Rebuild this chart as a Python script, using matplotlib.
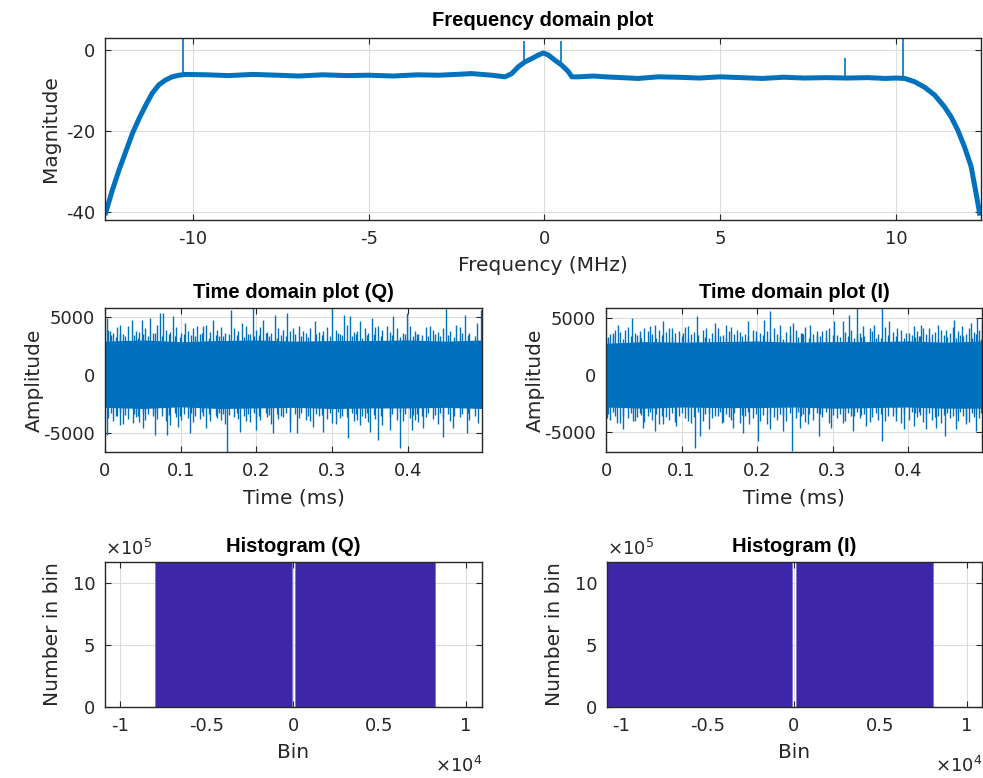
import numpy as np
import matplotlib
matplotlib.use('Agg')
import matplotlib.pyplot as plt
from matplotlib.ticker import FuncFormatter

plt.rcParams['font.family'] = ['DejaVu Sans']
plt.rcParams['axes.unicode_minus'] = False

# ---------------- data ----------------
# Frequency domain (MHz, dB)
freq_mhz = [-12.48, -12.29, -12.10, -11.91, -11.72, -11.53, -11.34, -11.16, -10.97, -10.78,
            -10.59, -10.40, -10.20, -9.6, -9.0, -8.3, -7.6, -7.0, -6.3, -5.6, -5.0, -4.3,
            -3.6, -3.01, -2.5, -2.07, -1.50, -1.12, -0.93, -0.74, -0.55, -0.36, -0.17, -0.03,
            0.11, 0.30, 0.49, 0.68, 0.78, 0.97, 1.4, 1.72, 2.2, 2.67, 3.24, 3.8, 4.4, 5.0,
            5.6, 6.2, 6.8, 7.4, 8.0, 8.6, 9.2, 9.7, 10.0, 10.25, 10.53, 10.82, 11.10, 11.38,
            11.57, 11.76, 11.95, 12.14, 12.28, 12.38]
mag_db = [-40.2, -34.6, -29.6, -25.1, -20.6, -16.9, -13.6, -10.7, -8.6, -7.4,
          -6.6, -6.2, -6.0, -6.1, -6.3, -6.0, -6.2, -6.4, -6.1, -6.3, -6.2, -6.4,
          -6.1, -6.2, -6.0, -5.8, -6.2, -6.6, -5.8, -4.1, -2.9, -2.1, -1.2, -0.7,
          -1.2, -2.5, -3.7, -5.3, -6.6, -6.6, -6.4, -6.6, -6.8, -7.0, -6.6, -6.7, -6.9, -6.6,
          -6.8, -7.0, -6.7, -6.9, -6.8, -6.9, -6.8, -7.0, -6.9, -7.0, -7.8, -9.2, -11.1, -14.0,
          -16.5, -19.8, -23.9, -28.8, -35.4, -40.3]
spike_freq = [-10.28, -0.57, 0.48, 8.55, 10.2]
spike_top = [4.0, 2.2, 2.2, -2.0, 4.0]

# Time domain (Q): tall spikes, mid-level spikes, low-level spikes, solid core
q_up_t = [0.002, 0.0066, 0.0198, 0.035, 0.0485, 0.0594, 0.0727, 0.077, 0.09, 0.1057, 0.121,
          0.134, 0.143, 0.167, 0.181, 0.195, 0.209, 0.2246, 0.24, 0.2488, 0.262, 0.2774, 0.288,
          0.2994, 0.315, 0.3236, 0.337, 0.352, 0.361, 0.372, 0.381, 0.3985, 0.429, 0.451, 0.464,
          0.4756, 0.491, 0.4965]
q_up_v = [4890, 3730, 4310, 4740, 4740, 4890, 5320, 5320, 5030, 4450, 4160,
          4310, 4740, 5600, 4450, 5750, 4740, 5170, 5320, 4020, 3730, 4600, 3730,
          5660, 5170, 5030, 4600, 4890, 4160, 4160, 5030, 5320, 4160, 5660, 4310,
          5170, 4450, 5600]
q_dn_t = [0.002, 0.0198, 0.0374, 0.0506, 0.066, 0.0815, 0.097, 0.112, 0.134, 0.161, 0.178,
          0.2, 0.222, 0.244, 0.253, 0.275, 0.288, 0.2994, 0.321, 0.337, 0.35, 0.361, 0.3765,
          0.3897, 0.405, 0.4205, 0.447, 0.46, 0.478, 0.493]
q_dn_v = [-5170, -4310, -4160, -4600, -5170, -5170, -4450, -5030, -4600, -6610, -4890,
          -4740, -5030, -4890, -5030, -4450, -4890, -4160, -5460, -4310, -4890, -5600, -4740,
          -6320, -4740, -4600, -5320, -4600, -5030, -4160]
q_mid_t = [0.004, 0.011, 0.016, 0.024, 0.030, 0.041, 0.045, 0.053, 0.063, 0.069,
           0.081, 0.086, 0.094, 0.101, 0.109, 0.116, 0.126, 0.130, 0.139, 0.148,
           0.153, 0.158, 0.171, 0.176, 0.186, 0.191, 0.199, 0.205, 0.214, 0.219,
           0.229, 0.235, 0.244, 0.256, 0.266, 0.271, 0.282, 0.293, 0.305, 0.310,
           0.319, 0.329, 0.333, 0.343, 0.348, 0.357, 0.366, 0.376, 0.386, 0.393,
           0.403, 0.409, 0.414, 0.424, 0.433, 0.440, 0.446, 0.456, 0.469, 0.481]
q_mid_up = [3900, 3600, 4100, 3500, 4200, 3800, 3700, 4000, 3600, 4300,
            3900, 3700, 4100, 3600, 3800, 4000, 3500, 4200, 3700, 3900,
            4100, 3600, 4000, 3800, 4200, 3500, 3900, 4100, 3700, 3600,
            4000, 3900, 3800, 4200, 3600, 4000, 3700, 4100, 3900, 3500,
            4300, 3700, 3800, 4000, 3600, 4100, 3900, 3700, 4000, 3600,
            4200, 3800, 3500, 4100, 3900, 3700, 4000, 3800, 4100, 3600]
q_mid_dn = [-3700, -4000, -3500, -4200, -3800, -3600, -4100, -3900, -3500, -3800,
            -4000, -4300, -3600, -3900, -3700, -4100, -3800, -3500, -4000, -3700,
            -3900, -4200, -3600, -3800, -4000, -4100, -3700, -3900, -3600, -4200,
            -3800, -3600, -4100, -3700, -3900, -4000, -3500, -3800, -4200, -3700,
            -3600, -4000, -3900, -3700, -4100, -3800, -4300, -3600, -3900, -4000,
            -3700, -3900, -4100, -3600, -3800, -4200, -3700, -4000, -3600, -3900]
q_low_t = [0.008, 0.014, 0.020, 0.027, 0.038, 0.043, 0.050, 0.057, 0.066, 0.075,
           0.084, 0.092, 0.099, 0.104, 0.114, 0.119, 0.128, 0.137, 0.146, 0.151,
           0.156, 0.164, 0.174, 0.184, 0.189, 0.197, 0.203, 0.212, 0.217, 0.227,
           0.232, 0.239, 0.251, 0.259, 0.268, 0.279, 0.286, 0.297, 0.308, 0.313,
           0.326, 0.331, 0.340, 0.346, 0.355, 0.364, 0.379, 0.389, 0.396, 0.407,
           0.412, 0.419, 0.427, 0.436, 0.443, 0.453, 0.461, 0.472, 0.479, 0.489]
q_low_up = [3400, 3250, 3550, 3300, 3450, 3200, 3500, 3350, 3600, 3300,
            3500, 3350, 3250, 3550, 3400, 3300, 3600, 3200, 3450, 3350,
            3300, 3550, 3400, 3250, 3500, 3350, 3450, 3600, 3300, 3200,
            3450, 3300, 3500, 3350, 3250, 3550, 3400, 3300, 3600, 3450,
            3350, 3500, 3200, 3450, 3550, 3300, 3400, 3250, 3500, 3350,
            3550, 3400, 3300, 3500, 3350, 3450, 3250, 3600, 3400, 3300]
q_low_dn = [-3300, -3500, -3200, -3450, -3350, -3550, -3250, -3400, -3300, -3500,
            -3450, -3250, -3550, -3350, -3300, -3500, -3200, -3400, -3550, -3300,
            -3350, -3450, -3250, -3500, -3400, -3300, -3550, -3250, -3450, -3350,
            -3500, -3300, -3400, -3250, -3550, -3350, -3450, -3300, -3200, -3500,
            -3250, -3400, -3500, -3300, -3450, -3550, -3350, -3200, -3400, -3450,
            -3400, -3550, -3300, -3450, -3250, -3350, -3500, -3400, -3300, -3550]
q_core_t = [0.0, 0.05, 0.1, 0.15, 0.2, 0.25, 0.3, 0.35, 0.4, 0.45, 0.4979]
q_core_hi = [2900, 3000, 2850, 2950, 3000, 2900, 2950, 2950, 3000, 2900, 3000]
q_core_lo = [-2800, -2900, -2750, -2900, -2850, -2800, -2900, -2850, -2850, -2800, -2900]

# Time domain (I)
i_up_t = [0.002, 0.0097, 0.016, 0.025, 0.034, 0.045, 0.058, 0.065, 0.0757, 0.087, 0.102,
          0.109, 0.1206, 0.133, 0.144, 0.159, 0.173, 0.188, 0.199, 0.209, 0.2176, 0.23, 0.243,
          0.247, 0.26, 0.27, 0.28, 0.2915, 0.3025, 0.3135, 0.3214, 0.3325, 0.34, 0.355, 0.3655,
          0.375, 0.386, 0.397, 0.408, 0.417, 0.428, 0.439, 0.45, 0.461, 0.472, 0.483, 0.4918,
          0.4976]
i_up_v = [3270, 3710, 4440, 4000, 5030, 3860, 4300, 4440, 4740, 4150, 3710,
          4300, 5180, 4150, 4590, 4440, 4000, 4740, 3860, 4880, 5610, 4440, 4300,
          4590, 3710, 4440, 3860, 4000, 4740, 4740, 5320, 5900, 4300, 4440, 5900,
          4740, 4150, 3710, 4300, 4440, 4150, 4440, 4000, 4880, 4300, 4590, 5030,
          4740]
i_dn_t = [0.001, 0.014, 0.023, 0.036, 0.049, 0.065, 0.0757, 0.093, 0.109, 0.1176, 0.124,
          0.137, 0.153, 0.168, 0.181, 0.19, 0.201, 0.217, 0.234, 0.2466, 0.2563, 0.267,
          0.2827, 0.298, 0.3135, 0.3267, 0.344, 0.366, 0.384, 0.395, 0.408, 0.4236, 0.437,
          0.449, 0.463, 0.4765, 0.4897]
i_dn_v = [-3740, -4180, -4760, -4030, -4620, -4910, -4320, -4470, -4030, -6370, -5350,
          -4760, -4180, -4620, -5060, -4320, -5790, -4760, -4910, -6670, -4620, -4320,
          -5350, -4620, -4180, -4910, -4470, -5790, -4030, -4760, -4470, -4760, -4620,
          -5350, -4760, -4320, -4910]
i_mid_t = [0.005, 0.012, 0.019, 0.029, 0.038, 0.041, 0.050, 0.055, 0.061, 0.070,
           0.080, 0.084, 0.092, 0.097, 0.105, 0.113, 0.117, 0.128, 0.140, 0.148,
           0.155, 0.163, 0.166, 0.177, 0.184, 0.194, 0.204, 0.213, 0.222, 0.226,
           0.238, 0.251, 0.258, 0.264, 0.274, 0.286, 0.295, 0.306, 0.317, 0.325,
           0.337, 0.349, 0.352, 0.360, 0.370, 0.380, 0.390, 0.401, 0.412, 0.420,
           0.432, 0.436, 0.443, 0.455, 0.459, 0.466, 0.477, 0.481, 0.487, 0.494]
i_mid_up = [3600, 4000, 3800, 4200, 3700, 3500, 4100, 3900, 3600, 4000,
            3800, 4100, 3700, 3900, 4200, 3600, 3800, 4000, 3700, 4100,
            3500, 3900, 4200, 3800, 3600, 4000, 3700, 3900, 4100, 3600,
            3800, 4000, 3700, 4200, 3600, 3900, 4100, 3500, 3800, 4000,
            3700, 4100, 3900, 3600, 4200, 3800, 4000, 3700, 3900, 4100,
            3600, 3800, 4000, 3700, 4200, 3900, 3600, 4100, 3800, 4000]
i_mid_dn = [-3900, -3600, -4200, -3800, -4000, -3700, -4100, -3600, -3900, -4300,
            -3700, -3900, -4100, -3600, -3800, -4200, -3700, -4000, -3800, -3600,
            -4100, -3700, -3900, -4200, -3600, -3800, -4000, -4300, -3700, -3900,
            -4000, -3800, -3600, -4100, -3900, -3700, -4200, -3800, -4000, -3600,
            -3800, -4100, -3700, -3900, -4000, -3600, -4200, -3900, -3700, -4100,
            -3900, -3700, -4200, -3800, -3600, -4000, -3900, -4100, -3700, -3800]
i_low_t = [0.003, 0.009, 0.023, 0.033, 0.045, 0.047, 0.058, 0.066, 0.074, 0.088,
           0.101, 0.109, 0.122, 0.131, 0.136, 0.144, 0.151, 0.159, 0.170, 0.180,
           0.188, 0.199, 0.208, 0.217, 0.231, 0.234, 0.243, 0.254, 0.261, 0.269,
           0.279, 0.283, 0.291, 0.300, 0.310, 0.321, 0.329, 0.333, 0.342, 0.357,
           0.364, 0.374, 0.384, 0.394, 0.405, 0.409, 0.416, 0.424, 0.428, 0.439,
           0.447, 0.451, 0.463, 0.469, 0.473, 0.484, 0.490, 0.496, 0.414, 0.338]
i_low_up = [3350, 3500, 3200, 3450, 3550, 3300, 3400, 3250, 3500, 3350,
            3450, 3300, 3500, 3350, 3250, 3550, 3400, 3300, 3600, 3450,
            3400, 3250, 3550, 3300, 3450, 3200, 3500, 3350, 3600, 3300,
            3550, 3400, 3300, 3500, 3350, 3450, 3250, 3600, 3400, 3300,
            3300, 3550, 3400, 3250, 3500, 3350, 3450, 3600, 3300, 3200,
            3500, 3350, 3250, 3550, 3400, 3300, 3600, 3200, 3450, 3350]
i_low_dn = [-3450, -3250, -3550, -3350, -3300, -3500, -3200, -3400, -3550, -3300,
            -3300, -3500, -3200, -3450, -3350, -3550, -3250, -3400, -3300, -3500,
            -3250, -3400, -3500, -3300, -3450, -3550, -3350, -3200, -3400, -3450,
            -3350, -3450, -3250, -3500, -3400, -3300, -3550, -3250, -3450, -3350,
            -3400, -3550, -3300, -3450, -3250, -3350, -3500, -3400, -3300, -3550,
            -3500, -3300, -3400, -3250, -3550, -3350, -3450, -3300, -3200, -3500]
i_core_t = [0.0, 0.05, 0.1, 0.15, 0.2, 0.25, 0.3, 0.35, 0.4, 0.45, 0.4979]
i_core_hi = [2800, 2950, 2900, 2950, 3000, 2900, 2950, 2950, 3000, 2900, 3000]
i_core_lo = [-2800, -2900, -2800, -2850, -2850, -2800, -2900, -2850, -2800, -2900, -2900]

# Histograms (bin edges and counts)
hq_left = [-7980, 90]
hq_right = [-90, 8210]
hq_count = [1.17e6, 1.17e6]
hi_left = [-10810, 90]
hi_right = [-90, 8030]
hi_count = [1.17e6, 1.17e6]

# ---------------- style ----------------
LINE = '#0072BD'
AXC = '#262626'
HIST = '#3E26A8'
TICK_FS = 13
LAB_FS = 14.5
TITLE_FONT = dict(family=['Liberation Sans', 'DejaVu Sans'], fontweight='bold', fontsize=14.5)

W, H = 983, 778
fig = plt.figure(figsize=(W / 100, H / 100), dpi=100)


def rect(l, r, t, b):
    return [l / W, 1 - b / H, (r - l) / W, (b - t) / H]


def style(ax):
    for s in ax.spines.values():
        s.set_color(AXC)
        s.set_linewidth(1.0)
    ax.tick_params(direction='in', length=4, width=0.8, colors=AXC, labelsize=TICK_FS,
                   top=True, right=True, labelcolor=AXC, pad=7)
    ax.grid(True, color='#dcdcdc', linewidth=0.8)
    ax.set_axisbelow(True)


# ---- top: frequency domain ----
ax1 = fig.add_axes(rect(105, 981, 38, 220))
style(ax1)
ax1.plot(freq_mhz, mag_db, color=LINE, lw=3.6, solid_joinstyle='round')
base = np.interp(spike_freq, freq_mhz, mag_db)
ax1.vlines(spike_freq, base, spike_top, color=LINE, lw=1.2)
ax1.set_xlim(-12.5, 12.42)
ax1.set_ylim(-42, 3)
ax1.set_xticks([-10, -5, 0, 5, 10])
ax1.set_yticks([-40, -20, 0])
ax1.set_xlabel('Frequency (MHz)', fontsize=LAB_FS, color=AXC, labelpad=6)
ax1.set_ylabel('Magnitude', fontsize=LAB_FS, color=AXC, labelpad=4)
ax1.set_title('Frequency domain plot', color='black', pad=9, **TITLE_FONT)


def time_panel(rc, up_t, up_v, dn_t, dn_v, mt, mup, mdn, lt, lup, ldn, ct, chi, clo,
               ylim, title):
    ax = fig.add_axes(rc)
    style(ax)
    ax.fill_between(ct, clo, chi, color=LINE, lw=0)
    ax.vlines(lt, ldn, lup, color=LINE, lw=1.0)
    ax.vlines(mt, mdn, mup, color=LINE, lw=1.0)
    ax.vlines(up_t, 0, up_v, color=LINE, lw=1.0)
    ax.vlines(dn_t, dn_v, 0, color=LINE, lw=1.0)
    ax.set_xlim(0, 0.4979)
    ax.set_ylim(*ylim)
    ax.set_xticks([0, 0.1, 0.2, 0.3, 0.4])
    ax.set_yticks([-5000, 0, 5000])
    ax.xaxis.set_major_formatter(FuncFormatter(lambda v, p: ('%g' % v)))
    ax.set_xlabel('Time (ms)', fontsize=LAB_FS, color=AXC, labelpad=6)
    ax.set_ylabel('Amplitude', fontsize=LAB_FS, color=AXC, labelpad=0)
    ax.set_title(title, color='black', pad=7, **TITLE_FONT)
    return ax


time_panel(rect(105, 482, 308, 452), q_up_t, q_up_v, q_dn_t, q_dn_v,
           q_mid_t, q_mid_up, q_mid_dn, q_low_t, q_low_up, q_low_dn,
           q_core_t, q_core_hi, q_core_lo, (-6640, 5750), 'Time domain plot (Q)')
time_panel(rect(606, 982, 308, 452), i_up_t, i_up_v, i_dn_t, i_dn_v,
           i_mid_t, i_mid_up, i_mid_dn, i_low_t, i_low_up, i_low_dn,
           i_core_t, i_core_hi, i_core_lo, (-6750, 5900), 'Time domain plot (I)')


def hist_panel(rc, left, right, count, xlim, title):
    ax = fig.add_axes(rc)
    style(ax)
    widths = [r - l for l, r in zip(left, right)]
    ax.bar(left, count, width=widths, align='edge', color=HIST, edgecolor='#7a6ccc',
           linewidth=0.5)
    ax.set_xlim(*xlim)
    ax.set_ylim(0, 1.17e6)
    ax.set_xticks([-10000, -5000, 0, 5000, 10000])
    ax.set_yticks([0, 5e5, 1e6])
    ax.xaxis.set_major_formatter(FuncFormatter(lambda v, p: '%g' % (v / 1e4)))
    ax.yaxis.set_major_formatter(FuncFormatter(lambda v, p: '%g' % (v / 1e5)))
    ax.set_xlabel('Bin', fontsize=LAB_FS, color=AXC, labelpad=6)
    ax.set_ylabel('Number in bin', fontsize=LAB_FS, color=AXC, labelpad=8)
    ax.set_title(title, color='black', pad=7, **TITLE_FONT)
    ax.text(0.0, 1.02, r'$\times10^{5}$', transform=ax.transAxes, ha='left', va='bottom',
            fontsize=TICK_FS, color=AXC)
    ax.text(1.0, -0.34, r'$\times10^{4}$', transform=ax.transAxes, ha='right', va='top',
            fontsize=TICK_FS, color=AXC)
    return ax


hist_panel(rect(105, 482, 562, 707), hq_left, hq_right, hq_count, (-10870, 10920), 'Histogram (Q)')
hist_panel(rect(607, 982, 562, 707), hi_left, hi_right, hi_count, (-10810, 10870), 'Histogram (I)')

fig.savefig('out.png', dpi=100)
